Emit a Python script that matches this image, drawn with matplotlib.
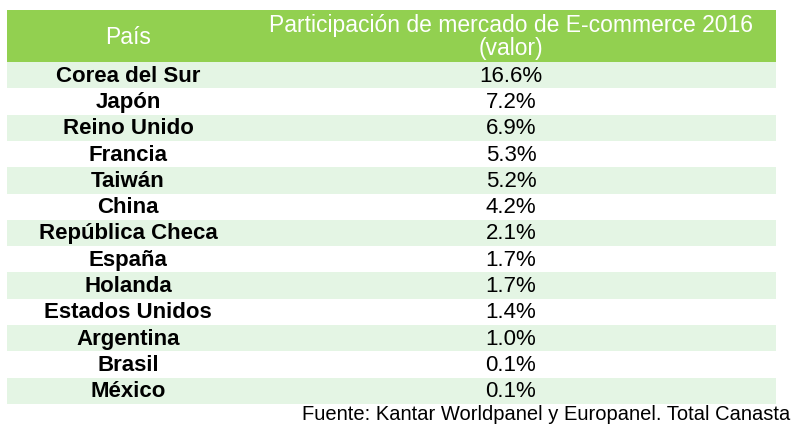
import matplotlib.pyplot as plt
from matplotlib.patches import Rectangle

paises = ['Corea del Sur', 'Japón', 'Reino Unido', 'Francia', 'Taiwán', 'China',
          'República Checa', 'España', 'Holanda', 'Estados Unidos', 'Argentina',
          'Brasil', 'México']
participacion = [16.6, 7.2, 6.9, 5.3, 5.2, 4.2, 2.1, 1.7, 1.7, 1.4, 1.0, 0.1, 0.1]
encabezados = ['País', 'Participación de mercado de E-commerce 2016\n(valor)']
fuente = 'Fuente: Kantar Worldpanel y Europanel. Total Canasta'

plt.rcParams['font.family'] = ['Liberation Sans', 'DejaVu Sans']

verde = '#92D050'
franja = '#E4F5E4'

fig = plt.figure(figsize=(8, 4.38), dpi=100)
ax = fig.add_axes([0, 0, 1, 1])
ax.set_xlim(0, 800)
ax.set_ylim(438, 0)
ax.axis('off')

x0, x2 = 7, 776
c1, c2 = 128, 511
top, head_h, row_h = 10, 52, 26.3

# encabezado
ax.add_patch(Rectangle((x0, top), x2 - x0, head_h, color=verde, lw=0))
ax.text(c1, top + head_h / 2 + 2, encabezados[0], color='white',
        fontsize=16.5, ha='center', va='center')
ax.text(c2, top + head_h / 2 + 1, encabezados[1], color='white',
        fontsize=16.5, ha='center', va='center', linespacing=1.0)

# filas
for i, (p, v) in enumerate(zip(paises, participacion)):
    y = top + head_h + i * row_h
    if i % 2 == 0:
        ax.add_patch(Rectangle((x0, y), x2 - x0, row_h, color=franja, lw=0))
    yc = y + row_h / 2 + 1
    ax.text(c1, yc, p, fontsize=16, fontweight='bold',
            ha='center', va='center', color='black')
    ax.text(c2, yc, f'{v:.1f}%', fontsize=16,
            ha='center', va='center', color='black')

y_fin = top + head_h + len(paises) * row_h
ax.text(790, y_fin + 11, fuente, fontsize=14.5, ha='right', va='center', color='black')

fig.savefig('out.png', dpi=100)
